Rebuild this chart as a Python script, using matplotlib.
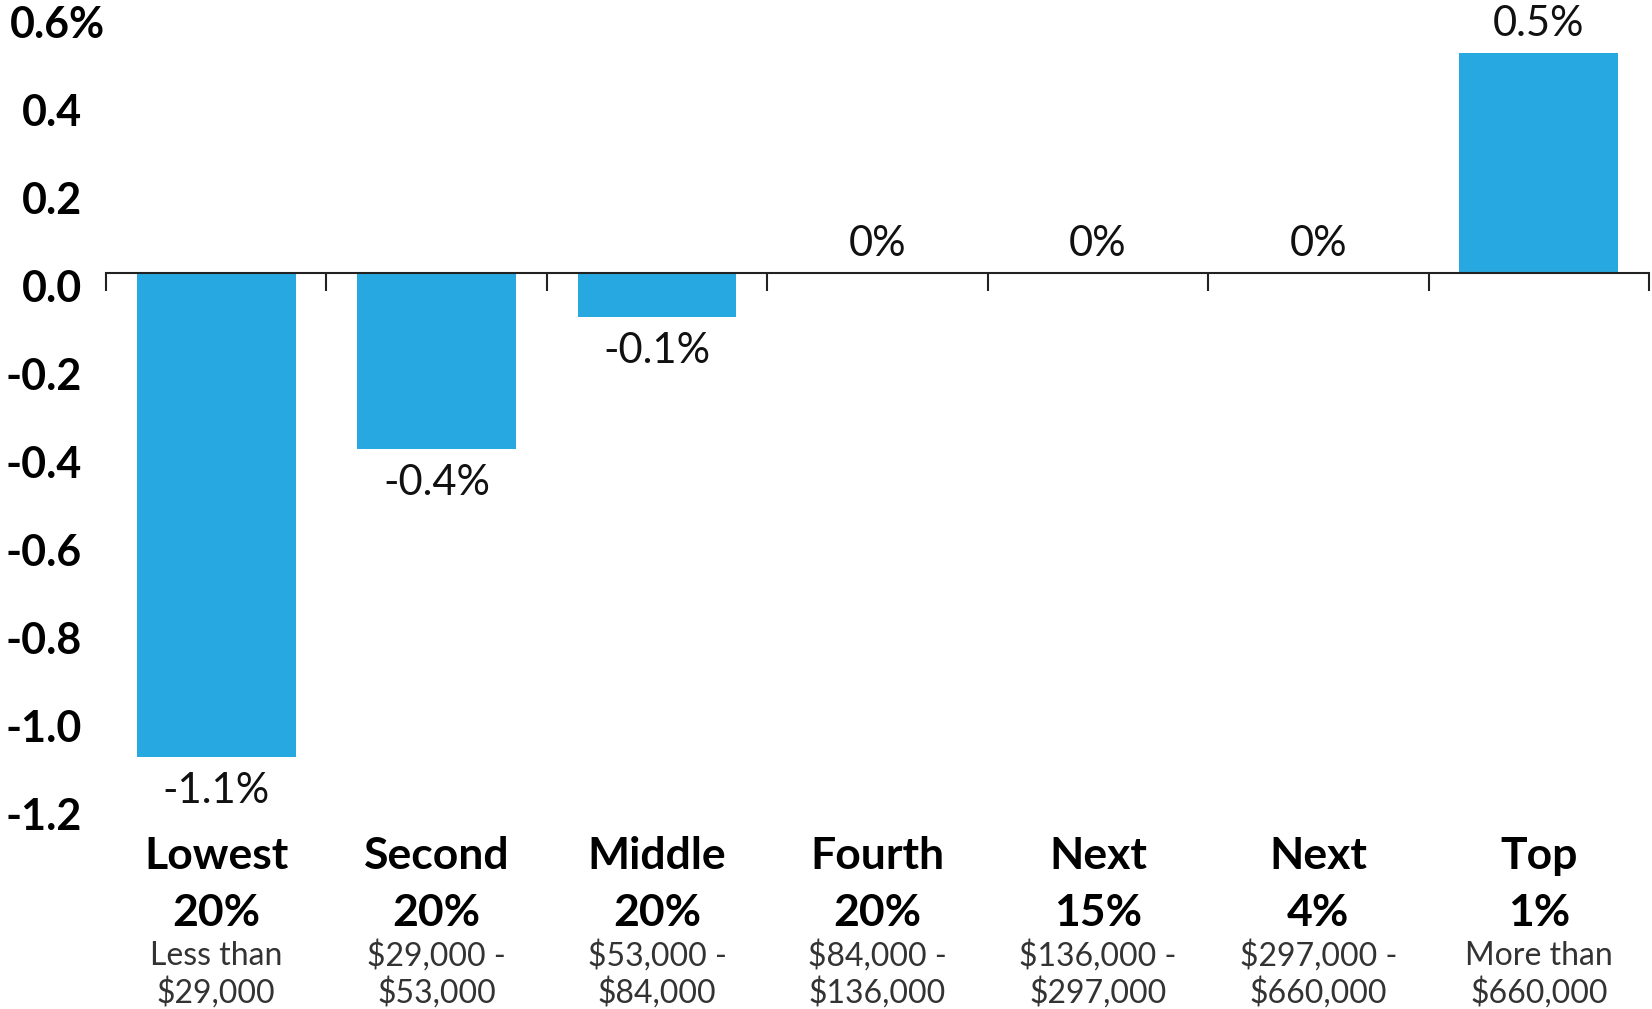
import numpy as np
import matplotlib
matplotlib.use('Agg')
import matplotlib.pyplot as plt
import matplotlib.transforms as mtransforms

plt.rcParams['font.family'] = ['Lato', 'DejaVu Sans']

# change in after-tax income by income group (%)
groups = ['Lowest', 'Second', 'Middle', 'Fourth', 'Next', 'Next', 'Top']
shares = ['20%', '20%', '20%', '20%', '15%', '4%', '1%']
range_top = ['Less than', '$29,000 -', '$53,000 -', '$84,000 -', '$136,000 -', '$297,000 -', 'More than']
range_bottom = ['$29,000', '$53,000', '$84,000', '$136,000', '$297,000', '$660,000', '$660,000']
change = [-1.1, -0.4, -0.1, 0, 0, 0, 0.5]
yticks = [0.6, 0.4, 0.2, 0.0, -0.2, -0.4, -0.6, -0.8, -1.0, -1.2]

W, H = 1652, 1009
fig = plt.figure(figsize=(W / 100, H / 100), dpi=100)
ax = fig.add_axes([106 / W, 1 - 801 / H, 1543 / W, 792 / H])

x = np.arange(len(groups))
ax.bar(x, change, width=0.72, color='#27a8e0', zorder=2)

ax.set_xlim(-0.5, len(groups) - 0.5)
ax.set_ylim(-1.2, 0.6)

for s in ['left', 'top', 'right']:
    ax.spines[s].set_visible(False)
ax.spines['bottom'].set_position(('data', 0))
ax.spines['bottom'].set_linewidth(1.5)
ax.spines['bottom'].set_color('#222222')
ax.spines['bottom'].set_zorder(3)
ax.set_xticks(np.arange(-0.5, len(groups), 1))
ax.set_xticklabels([])
ax.tick_params(axis='x', direction='out', length=13, width=1.5, color='#222222')
ax.set_yticks([])

# y axis labels, drawn by hand so the top one can carry the % sign
ytrans = ax.get_yaxis_transform() + mtransforms.ScaledTranslation(0, -16 / 100, fig.dpi_scale_trans)
for v in yticks:
    if v == 0.6:
        ax.text(-96 / 1543, v, '0.6%', transform=ytrans, ha='left', va='center',
                fontsize=31, fontweight='bold', color='black')
    else:
        ax.text(-24 / 1543, v, f'{v:.1f}', transform=ytrans, ha='right', va='center',
                fontsize=31, fontweight='bold', color='black')

# value labels
for xi, v in zip(x, change):
    label = f'{v:g}%'
    if v >= 0:
        ax.annotate(label, (xi, v), xytext=(0, 7), textcoords='offset points',
                    ha='center', va='bottom', fontsize=30, color='#111111')
    else:
        ax.annotate(label, (xi, v), xytext=(0, -11), textcoords='offset points',
                    ha='center', va='top', fontsize=30, color='#111111')

# category labels under the axis
xtrans = mtransforms.blended_transform_factory(ax.transData, fig.transFigure)
for xi in x:
    ax.text(xi, 1 - 856 / H, groups[xi], transform=xtrans, ha='center', va='center',
            fontsize=32, fontweight='bold', color='black', clip_on=False)
    ax.text(xi, 1 - 913 / H, shares[xi], transform=xtrans, ha='center', va='center',
            fontsize=32, fontweight='bold', color='black', clip_on=False)
    ax.text(xi, 1 - 956 / H, range_top[xi], transform=xtrans, ha='center', va='center',
            fontsize=23, color='#333333', clip_on=False, parse_math=False)
    ax.text(xi, 1 - 993 / H, range_bottom[xi], transform=xtrans, ha='center', va='center',
            fontsize=23, color='#333333', clip_on=False, parse_math=False)

fig.savefig('out.png', dpi=100)
